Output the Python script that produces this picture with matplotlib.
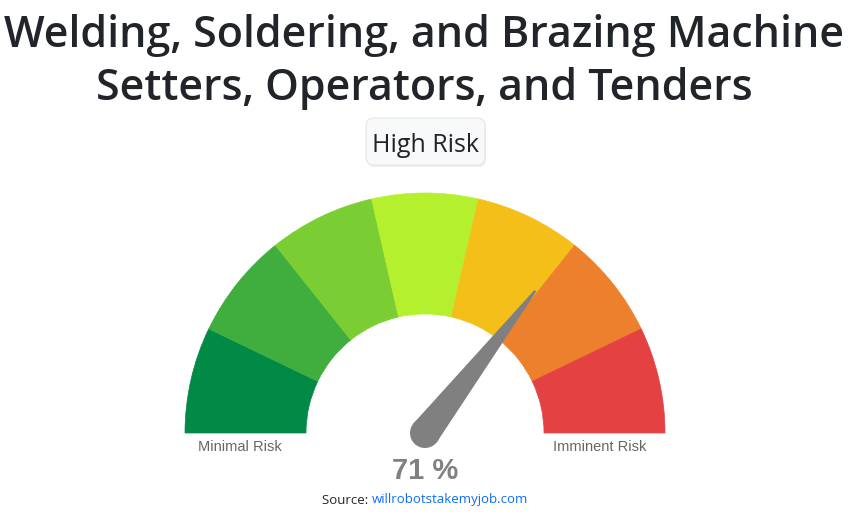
import numpy as np
import matplotlib.pyplot as plt
from matplotlib.patches import Wedge, Polygon, Circle, FancyBboxPatch

title_lines = ['Welding, Soldering, and Brazing Machine', 'Setters, Operators, and Tenders']
risk_label = 'High Risk'
risk_value = 71
segment_colors = ['#008a45', '#3fae3f', '#7bcd34', '#b5f02e', '#f5bf1a', '#ec802c', '#e44142']
end_labels = ['Minimal Risk', 'Imminent Risk']
source_prefix = 'Source: '
source_link = 'willrobotstakemyjob.com'

W, H = 848, 519
fig = plt.figure(figsize=(W / 100, H / 100), dpi=100)
ax = fig.add_axes([0, 0, 1, 1])
ax.set_xlim(0, W)
ax.set_ylim(0, H)
ax.set_aspect('equal')
ax.axis('off')

font = 'Open Sans'
for i, line in enumerate(title_lines):
    ax.text(W / 2, H - 47 - i * 53, line, ha='center', va='baseline',
            fontsize=31, fontweight='semibold', color='#212529', family=font)

# risk badge
ax.add_patch(FancyBboxPatch((367, H - 167), 119, 47, boxstyle='round,pad=0,rounding_size=8',
                            fc='#dddddd', ec='none', alpha=0.5))
ax.add_patch(FancyBboxPatch((366, H - 165), 119, 47, boxstyle='round,pad=0,rounding_size=8',
                            fc='#f8f9fa', ec='#e6e6e6', lw=0.8))
ax.text(425.5, H - 151.5, risk_label, ha='center', va='baseline', fontsize=18,
        color='#212529', family=font)

# gauge
cx, cy = 425, H - 433
r_out, r_in = 240, 119
n = len(segment_colors)
step = 180 / n
for i, c in enumerate(segment_colors):
    t1 = 180 - (i + 1) * step
    t2 = 180 - i * step
    ax.add_patch(Wedge((cx, cy), r_out, t1, t2, width=r_out - r_in, fc=c, ec=c, lw=0.5))

# needle
ang = np.radians(180 - risk_value / 100 * 180)
length = 180
d = np.array([np.cos(ang), np.sin(ang)])
p = np.array([-d[1], d[0]])
base = np.array([cx, cy])
tip = base + d * length
pts = [base + p * 15, tip + p * 1.2, tip - p * 1.2, base - p * 15]
ax.add_patch(Polygon(pts, closed=True, fc='#808080', ec='none'))
ax.add_patch(Circle((cx, cy), 15, fc='#808080', ec='none'))

ax.text(240, H - 447, end_labels[0], ha='center', va='center', fontsize=10.5,
        color='#666666', family='Liberation Sans')
ax.text(600, H - 447, end_labels[1], ha='center', va='center', fontsize=10.5,
        color='#666666', family='Liberation Sans')
ax.text(425, H - 471, f'{risk_value} %', ha='center', va='center', fontsize=21,
        fontweight='bold', color='#808080', family='Liberation Sans')

ax.text(372, H - 500, source_prefix, ha='right', va='center', fontsize=9.5,
        color='#212529', family=font)
ax.text(372, H - 500, source_link, ha='left', va='center', fontsize=9.5,
        color='#0d6efd', family=font)

fig.savefig('out.png', dpi=100)
